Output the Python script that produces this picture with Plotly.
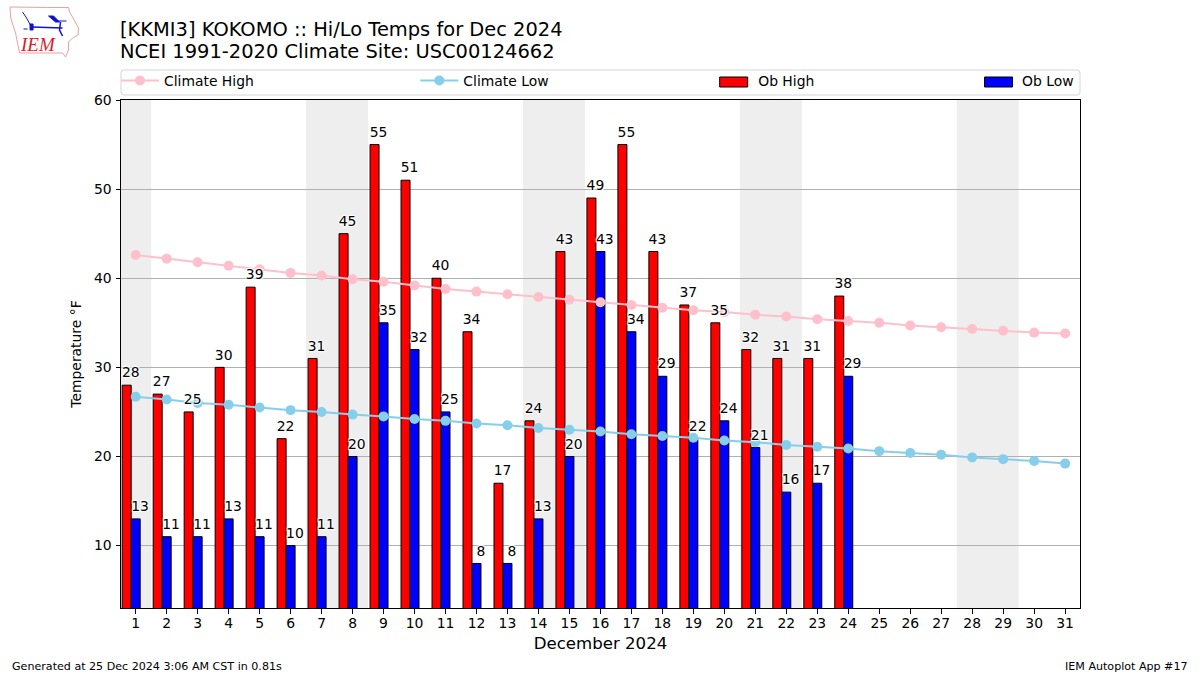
import plotly.graph_objects as go

days = list(range(1, 32))
ob_days = list(range(1, 25))
ob_high = [28, 27, 25, 30, 39, 22, 31, 45, 55, 51, 40, 34, 17, 24, 43, 49, 55, 43, 37, 35, 32, 31, 31, 38]
ob_low = [13, 11, 11, 13, 11, 10, 11, 20, 35, 32, 25, 8, 8, 13, 20, 43, 34, 29, 22, 24, 21, 16, 17, 29]
climate_high = [42.6, 42.2, 41.8, 41.4, 41.0, 40.6, 40.3, 39.9, 39.6, 39.2, 38.8, 38.5, 38.2, 37.9, 37.6, 37.3,
                37.0, 36.7, 36.4, 36.2, 35.9, 35.7, 35.4, 35.2, 35.0, 34.7, 34.5, 34.3, 34.1, 33.9, 33.8]
climate_low = [26.7, 26.4, 26.0, 25.8, 25.5, 25.2, 25.0, 24.7, 24.5, 24.2, 24.0, 23.7, 23.5, 23.2, 23.0, 22.8,
               22.5, 22.3, 22.1, 21.8, 21.6, 21.3, 21.1, 20.9, 20.6, 20.4, 20.2, 19.9, 19.7, 19.5, 19.2]
weekend_bands = [(0.5, 1.5), (6.5, 8.5), (13.5, 15.5), (20.5, 22.5), (27.5, 29.5)]
title_lines = ["[KKMI3] KOKOMO :: Hi/Lo Temps for Dec 2024", "NCEI 1991-2020 Climate Site: USC00124662"]

FONT = "DejaVu Sans"
TXT = 13.9
W, H = 1200, 675
L, R, T, B = 120.5, 1080, 100, 608


def px(x):
    return (x - L) / (R - L)


def py(y):
    return (B - y) / (B - T)


fig = go.Figure()
fig.add_trace(go.Bar(x=ob_days, y=ob_high, name="Ob High", offset=-0.435, width=0.29, base=0, showlegend=False,
                     marker=dict(color="#ff0000", line=dict(color="black", width=1))))
fig.add_trace(go.Bar(x=ob_days, y=ob_low, name="Ob Low", offset=-0.145, width=0.29, base=0, showlegend=False,
                     marker=dict(color="#0000ff", line=dict(color="black", width=1))))
fig.add_trace(go.Scatter(x=days, y=climate_high, name="Climate High", mode="lines+markers",
                         line=dict(color="#ffc0cb", width=2), marker=dict(color="#ffc0cb", size=10), legend="legend"))
fig.add_trace(go.Scatter(x=days, y=climate_low, name="Climate Low", mode="lines+markers",
                         line=dict(color="#87ceeb", width=2), marker=dict(color="#87ceeb", size=10), legend="legend2"))
# legend text entries for the bars; their wide swatches are drawn as shapes below
fig.add_trace(go.Scatter(x=[None], y=[None], name="Ob High", mode="lines", line=dict(color="rgba(0,0,0,0)", width=1),
                         legend="legend3", hoverinfo="skip"))
fig.add_trace(go.Scatter(x=[None], y=[None], name="Ob Low", mode="lines", line=dict(color="rgba(0,0,0,0)", width=1),
                         legend="legend4", hoverinfo="skip"))

halo = "1px 1px 1px white, -1px -1px 1px white, 1px -1px 1px white, -1px 1px 1px white"
for xs, ys in (([d - 0.16 for d in ob_days], ob_high), ([d + 0.14 for d in ob_days], ob_low)):
    fig.add_trace(go.Scatter(x=xs, y=ys, text=[str(v) for v in ys], mode="markers+text", textposition="top center",
                             marker=dict(size=5.3, opacity=0), showlegend=False, hoverinfo="skip",
                             textfont=dict(family=FONT, size=TXT, color="black", shadow=halo)))

shapes = [dict(type="rect", xref="x", yref="paper", x0=a, x1=b, y0=0, y1=1, fillcolor="#eeeeee",
               line_width=0, layer="below") for a, b in weekend_bands]

# legend frame
x0, x1, y0, y1, r = px(120.5), px(1080), py(95), py(70), 3
rx, ry = r / (R - L), r / (B - T)
shapes.append(dict(type="path", xref="paper", yref="paper", layer="below",
                   path=f"M{x0+rx},{y0} L{x1-rx},{y0} Q{x1},{y0} {x1},{y0+ry} L{x1},{y1-ry} Q{x1},{y1} {x1-rx},{y1} "
                        f"L{x0+rx},{y1} Q{x0},{y1} {x0},{y1-ry} L{x0},{y0+ry} Q{x0},{y0} {x0+rx},{y0} Z",
                   line=dict(color="#d5d5d5", width=1), fillcolor="white"))
for a, color in ((719.5, "#ff0000"), (984.5, "#0000ff")):
    shapes.append(dict(type="rect", xref="paper", yref="paper", x0=px(a), x1=px(a + 28), y0=py(87), y1=py(77),
                       fillcolor=color, line=dict(color="black", width=1), layer="above"))


def poly(points, color, width=1, fill=None, closed=False):
    p = "M" + " L".join(f"{px(a):.5f},{py(b):.5f}" for a, b in points) + (" Z" if closed else "")
    shapes.append(dict(type="path", xref="paper", yref="paper", path=p, layer="above",
                       line=dict(color=color, width=width), fillcolor=fill or "rgba(0,0,0,0)"))


# IEM logo
poly([(9.5, 7), (47, 7.5), (68, 7.5), (69, 12), (72, 17), (78, 28), (77.5, 35), (72, 38), (68, 42), (68, 50),
      (65, 57), (62, 53), (19, 53), (17, 43), (15, 33), (12, 24), (10, 17)], "#e9a0a0", 1, closed=True)
poly([(31, 27), (62, 28)], "#1010d0", 1.5)
poly([(22, 12), (26, 18), (31, 27)], "#1010d0", 1)
poly([(48, 16), (53, 16), (59, 22), (55, 22)], "#1010d0", 1, fill="#1010d0", closed=True)
poly([(56, 21), (66, 21)], "#1010d0", 1)
poly([(60, 22), (59, 30), (62, 36)], "#1010d0", 1.5)
poly([(29.5, 24), (32.5, 24), (32.5, 30), (29.5, 30)], "#1010d0", 1, fill="#1010d0", closed=True)
poly([(23, 29), (27, 29)], "#1010d0", 1)


def label(text, x, y, xanchor, size, family=FONT, color="black"):
    return dict(text=text, xref="paper", yref="paper", x=px(x), y=py(y), xanchor=xanchor, yanchor="middle",
                showarrow=False, font=dict(family=family, size=size, color=color))


annotations = [
    label(title_lines[0], 117, 29, "left", 19.45),
    label(title_lines[1], 117, 51.5, "left", 19.45),
    label("Generated at 25 Dec 2024 3:06 AM CST in 0.81s", 9, 666, "left", 11.1),
    label("IEM Autoplot App #17", 1190, 666, "right", 11.1),
    label("<i>IEM</i>", 37.5, 45, "center", 19, "Liberation Serif", "#d81e28"),
]


def legend_box(x_px):
    return dict(x=px(x_px), y=py(81), xanchor="left", yanchor="middle", bgcolor="rgba(0,0,0,0)", borderwidth=0,
                orientation="v", itemwidth=38, font=dict(family=FONT, size=TXT, color="black"),
                itemclick=False, itemdoubleclick=False)


fig.update_layout(
    width=W, height=H, autosize=False, barmode="overlay", plot_bgcolor="white", paper_bgcolor="white",
    margin=dict(l=L, r=W - R, t=T, b=H - B, pad=0),
    font=dict(family=FONT, size=TXT, color="black"),
    xaxis=dict(range=[0.526, 31.48], tickmode="array", tickvals=days, ticktext=[str(d) for d in days],
               showgrid=False, zeroline=False, showline=True, mirror=True, linecolor="black", linewidth=1,
               ticks="outside", ticklen=4.5, tickcolor="black", ticklabelstandoff=-2,
               title=dict(text="December 2024", font=dict(family=FONT, size=16.6), standoff=7)),
    yaxis=dict(range=[3, 60], tickvals=[10, 20, 30, 40, 50, 60], showgrid=True, gridcolor="#b0b0b0", gridwidth=1,
               zeroline=False, showline=True, mirror=True, linecolor="black", linewidth=1,
               ticks="outside", ticklen=4.5, tickcolor="black", ticklabelstandoff=1,
               title=dict(text="Temperature °F", font=dict(family=FONT, size=TXT), standoff=9)),
    legend=legend_box(115.5), legend2=legend_box(415), legend3=legend_box(710), legend4=legend_box(974),
    shapes=shapes, annotations=annotations, showlegend=True,
)

fig.write_html("out.html", config=dict(displayModeBar=False), post_script="document.body.style.margin='0';")
